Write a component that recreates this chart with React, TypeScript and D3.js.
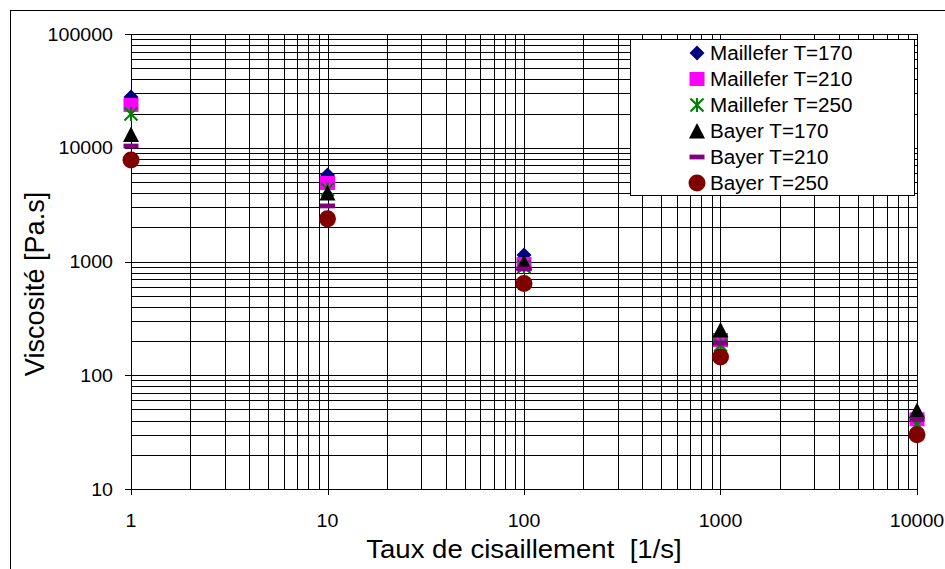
import React from "react";
import * as d3 from "d3";

const shearRates = [1, 10, 100, 1000, 10000];
const seriesNames = [
  "Maillefer T=170",
  "Maillefer T=210",
  "Maillefer T=250",
  "Bayer T=170",
  "Bayer T=210",
  "Bayer T=250",
];
const maillefer170 = [27900, 5750, 1140, 221, 44];
const maillefer210 = [23800, 4900, 950, 204, 41];
const maillefer250 = [19800, 4300, 900, 184, 37];
const bayer170 = [13100, 4000, 980, 250, 49];
const bayer210 = [10350, 3080, 860, 192, 41];
const bayer250 = [7800, 2370, 640, 145, 30];
const xTickLabels = ["1", "10", "100", "1000", "10000"];
const yTickLabels = ["10", "100", "1000", "10000", "100000"];

const seriesValues = [maillefer170, maillefer210, maillefer250, bayer170, bayer210, bayer250];
const seriesColors = ["#000080", "#FF00FF", "#008000", "#000000", "#800080", "#800000"];
const seriesShapes = ["diamond", "square", "star", "triangle", "dash", "circle"];

const FONT = "'Liberation Sans', Arial, Helvetica, sans-serif";

function Marker({ shape, color, cx, cy }: { shape: string; color: string; cx: number; cy: number }) {
  const s = 7.5;
  if (shape === "diamond") {
    return <path d={`M${cx},${cy - s} L${cx + s},${cy} L${cx},${cy + s} L${cx - s},${cy} Z`} fill={color} />;
  }
  if (shape === "square") {
    return <rect x={cx - 7.5} y={cy - 7} width={15} height={14} fill={color} />;
  }
  if (shape === "star") {
    const r = 6.5;
    return (
      <g stroke={color} strokeWidth={2.2}>
        <line x1={cx - r} y1={cy - r} x2={cx + r} y2={cy + r} />
        <line x1={cx - r} y1={cy + r} x2={cx + r} y2={cy - r} />
        <line x1={cx} y1={cy - r - 0.5} x2={cx} y2={cy + r + 0.5} />
      </g>
    );
  }
  if (shape === "triangle") {
    return <path d={`M${cx},${cy - 8} L${cx + 8},${cy + 7.5} L${cx - 8},${cy + 7.5} Z`} fill={color} />;
  }
  if (shape === "dash") {
    return <rect x={cx - 7.5} y={cy - 2.4} width={15} height={4.8} fill={color} />;
  }
  return <circle cx={cx} cy={cy} r={8.5} fill={color} />;
}

function SText({
  x, y, sx = 1, size, anchor = "start", children,
}: { x: number; y: number; sx?: number; size: number; anchor?: string; children: React.ReactNode }) {
  return (
    <text
      transform={`translate(${x},${y}) scale(${sx},1)`}
      fontFamily={FONT}
      fontSize={size}
      textAnchor={anchor as any}
      fill="#000"
    >
      {children}
    </text>
  );
}

export default function App() {
  const x = d3.scaleLog().domain([1, 10000]).range([131, 917]);
  const y = d3.scaleLog().domain([10, 100000]).range([489, 34]);

  const xGrid: number[] = [];
  for (let d = 1; d < 10000; d *= 10) for (let k = 1; k < 10; k++) xGrid.push(d * k);
  xGrid.push(10000);
  const yGrid: number[] = [];
  for (let d = 10; d < 100000; d *= 10) for (let k = 1; k < 10; k++) yGrid.push(d * k);
  yGrid.push(100000);

  const xMajor = xTickLabels.map(Number);
  const yMajor = yTickLabels.map(Number);

  const legX = 630;
  const legY = 39;
  const legW = 284;
  const legH = 156;
  const rowH = 26;

  return (
    <svg
      width={945}
      height={569}
      style={{ position: "absolute", left: 0, top: 0, background: "#fff" }}
    >
      <rect x={0} y={0} width={945} height={569} fill="#fff" />
      <rect x={10.5} y={10.5} width={960} height={600} fill="none" stroke="#000" strokeWidth={1} />

      <g shapeRendering="crispEdges" stroke="#000" strokeWidth={1}>
        {yGrid.map((v) => (
          <line key={"yg" + v} x1={x(1)} x2={x(10000)} y1={Math.round(y(v)) + 0.5} y2={Math.round(y(v)) + 0.5} />
        ))}
        {xGrid.map((v) => (
          <line key={"xg" + v} x1={Math.round(x(v)) + 0.5} x2={Math.round(x(v)) + 0.5} y1={y(100000)} y2={y(10)} />
        ))}
        {yMajor.map((v) => (
          <line key={"yt" + v} x1={x(1) - 6} x2={x(1)} y1={Math.round(y(v)) + 0.5} y2={Math.round(y(v)) + 0.5} />
        ))}
        {xMajor.map((v) => (
          <line key={"xt" + v} x1={Math.round(x(v)) + 0.5} x2={Math.round(x(v)) + 0.5} y1={y(10)} y2={y(10) + 6} />
        ))}
      </g>

      {yMajor.map((v, i) => (
        <SText key={"yl" + v} x={113} y={y(v) + 6.5} sx={1.06} size={18.5} anchor="end">
          {yTickLabels[i]}
        </SText>
      ))}
      {xMajor.map((v, i) => (
        <SText key={"xl" + v} x={x(v)} y={527} sx={1.06} size={18.5} anchor="middle">
          {xTickLabels[i]}
        </SText>
      ))}

      <SText x={524} y={558} sx={1.06} size={26} anchor="middle">
        Taux de cisaillement{"\u00a0\u00a0"}[1/s]
      </SText>
      <text
        transform={`translate(44,${284}) rotate(-90) scale(1.04,1.06)`}
        fontFamily={FONT}
        fontSize={26}
        textAnchor="middle"
      >
        Viscosité [Pa.s]
      </text>

      {seriesValues.map((vals, si) => (
        <g key={"s" + si}>
          {vals.map((v, i) => (
            <Marker
              key={i}
              shape={seriesShapes[si]}
              color={seriesColors[si]}
              cx={x(shearRates[i])}
              cy={y(v)}
            />
          ))}
        </g>
      ))}

      <rect x={legX + 0.5} y={legY + 0.5} width={legW} height={legH} fill="#fff" stroke="#000" strokeWidth={1} shapeRendering="crispEdges" />
      {seriesNames.map((name, i) => {
        const cy = legY + 14 + i * rowH;
        return (
          <g key={"lg" + i}>
            <Marker shape={seriesShapes[i]} color={seriesColors[i]} cx={697} cy={cy} />
            <SText x={710} y={cy + 7} sx={1.06} size={19.5}>
              {name}
            </SText>
          </g>
        );
      })}
    </svg>
  );
}
